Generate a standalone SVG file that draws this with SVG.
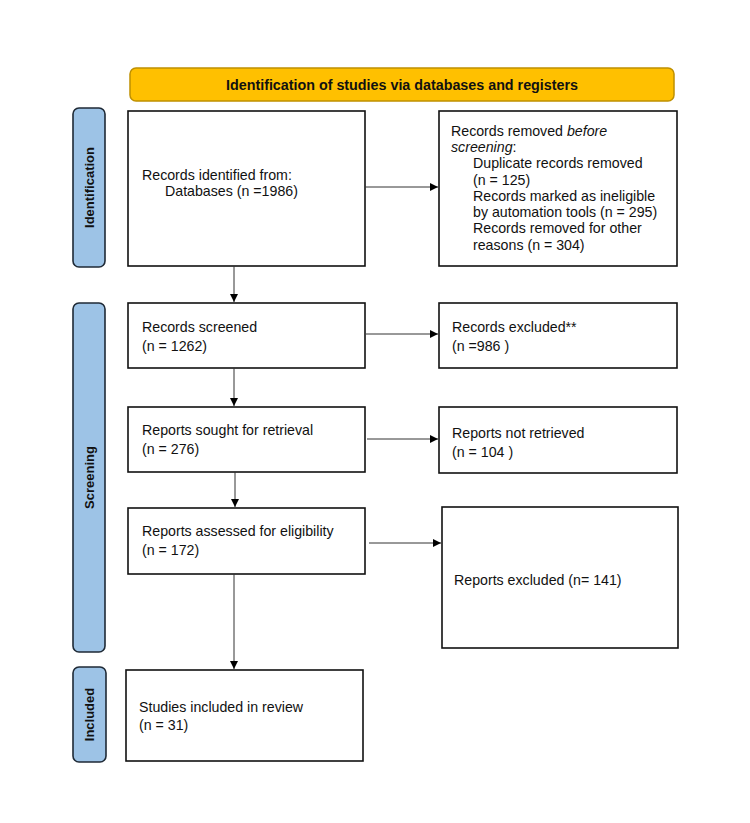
<svg xmlns="http://www.w3.org/2000/svg" width="750" height="823" viewBox="0 0 750 823">
<style>
text{font-family:"Liberation Sans",Arial,sans-serif;font-size:14.2px;fill:#111}
.box{fill:#fff;stroke:#111;stroke-width:1.6}
.side rect{fill:#9DC3E6;stroke:#1f2a36;stroke-width:1.6}
.side text{font-weight:bold;font-size:13px;text-anchor:middle;fill:#111}
.conn line{stroke:#333;stroke-width:1}
</style>
<defs>
<marker id="ah" viewBox="0 0 10 10" refX="10" refY="5" markerWidth="8" markerHeight="8" markerUnits="userSpaceOnUse" orient="auto">
<path d="M0,0 L10,5 L0,10 Z" fill="#000"/>
</marker>
</defs>
<rect width="750" height="823" fill="#fff"/>
<g id="header">
<rect x="130" y="68" width="544" height="33" rx="6" fill="#FFC000" stroke="#BF9000" stroke-width="1.5"/>
<text x="402" y="89.5" text-anchor="middle" style="font-weight:bold;font-size:14.3px">Identification of studies via databases and registers</text>
</g>
<g id="side-identification" class="side">
<rect x="73" y="108" width="32" height="159" rx="6"/>
<text transform="translate(93.5,187.5) rotate(-90)">Identification</text>
</g>
<g id="side-screening" class="side">
<rect x="73" y="303" width="32" height="349" rx="6"/>
<text transform="translate(93.5,477.5) rotate(-90)">Screening</text>
</g>
<g id="side-included" class="side">
<rect x="73" y="667" width="33" height="95" rx="6"/>
<text transform="translate(94,714.5) rotate(-90)">Included</text>
</g>
<g id="records-identified">
<rect class="box" x="128" y="111" width="237" height="155"/>
<text x="142" y="180">Records identified from:</text>
<text x="165" y="196">Databases (n =1986)</text>
</g>
<g id="records-removed">
<rect class="box" x="439" y="111" width="238" height="155"/>
<text x="451" y="136">Records removed <tspan font-style="italic">before</tspan></text>
<text x="451" y="152"><tspan font-style="italic">screening</tspan>:</text>
<text x="473" y="168">Duplicate records removed</text>
<text x="473" y="185">(n = 125)</text>
<text x="473" y="201">Records marked as ineligible</text>
<text x="473" y="217">by automation tools (n = 295)</text>
<text x="473" y="233">Records removed for other</text>
<text x="473" y="250">reasons (n = 304)</text>
</g>
<g id="records-screened">
<rect class="box" x="128" y="303" width="237" height="65"/>
<text x="142" y="332">Records screened</text>
<text x="142" y="351">(n = 1262)</text>
</g>
<g id="records-excluded">
<rect class="box" x="439" y="303" width="238" height="65"/>
<text x="452" y="332">Records excluded**</text>
<text x="452" y="351">(n =986 )</text>
</g>
<g id="reports-sought">
<rect class="box" x="128" y="407" width="237" height="65"/>
<text x="142" y="435">Reports sought for retrieval</text>
<text x="142" y="454">(n = 276)</text>
</g>
<g id="reports-not-retrieved">
<rect class="box" x="439" y="407" width="238" height="66"/>
<text x="452" y="438">Reports not retrieved</text>
<text x="452" y="457">(n = 104 )</text>
</g>
<g id="reports-assessed">
<rect class="box" x="128" y="508" width="237" height="66"/>
<text x="142" y="536">Reports assessed for eligibility</text>
<text x="142" y="555">(n = 172)</text>
</g>
<g id="reports-excluded">
<rect class="box" x="442" y="507" width="236" height="141"/>
<text x="454" y="585">Reports excluded (n= 141)</text>
</g>
<g id="studies-included">
<rect class="box" x="126" y="670" width="237" height="91"/>
<text x="139" y="712">Studies included in review</text>
<text x="139" y="730">(n = 31)</text>
</g>
<g id="connectors" class="conn">
<line x1="234" y1="266" x2="234" y2="302" marker-end="url(#ah)"/>
<line x1="365" y1="187" x2="438" y2="187" marker-end="url(#ah)"/>
<line x1="234" y1="368" x2="234" y2="406" marker-end="url(#ah)"/>
<line x1="366" y1="334" x2="438" y2="334" marker-end="url(#ah)"/>
<line x1="367" y1="439" x2="438" y2="439" marker-end="url(#ah)"/>
<line x1="235" y1="472" x2="235" y2="507" marker-end="url(#ah)"/>
<line x1="369" y1="543" x2="441" y2="543" marker-end="url(#ah)"/>
<line x1="234" y1="574" x2="234" y2="669" marker-end="url(#ah)"/>
</g>
</svg>
